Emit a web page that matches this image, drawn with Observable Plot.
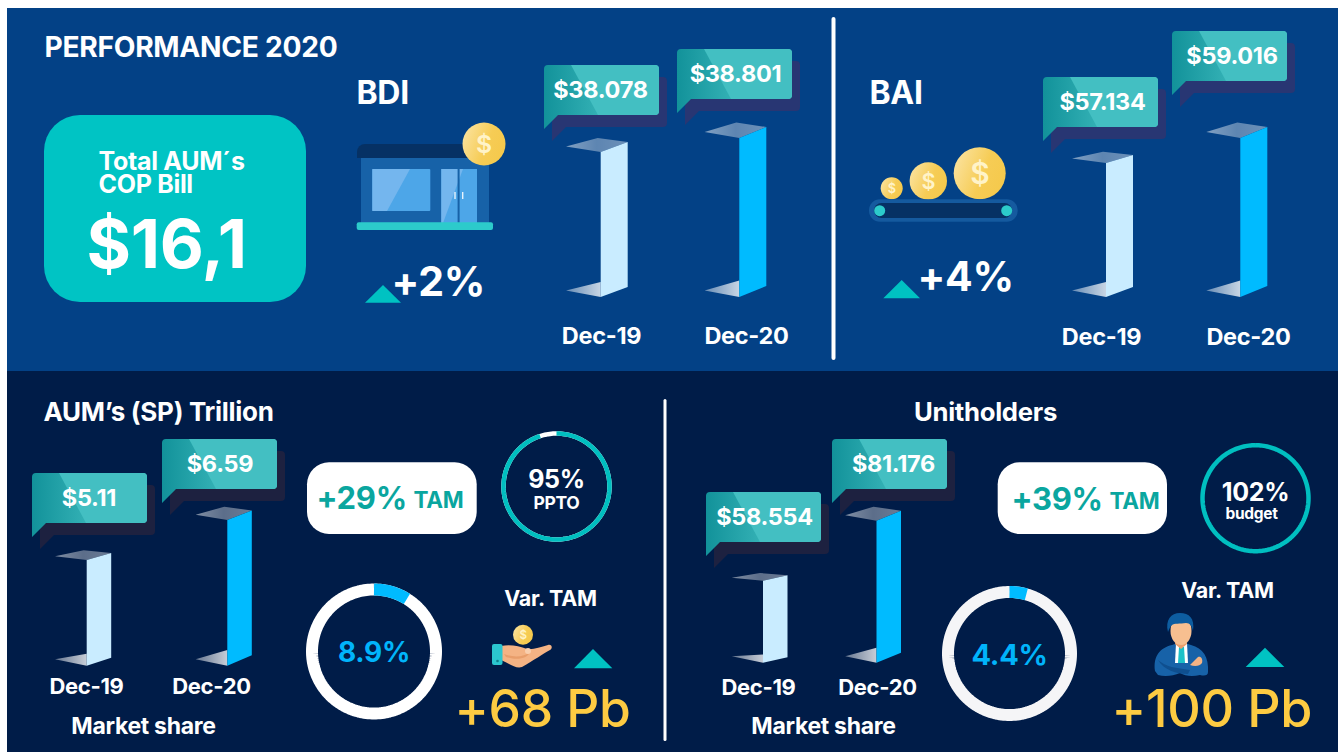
<!DOCTYPE html>
<html>
<head>
<meta charset="utf-8">
<script src="https://cdn.jsdelivr.net/npm/d3@7"></script>
<script src="https://cdn.jsdelivr.net/npm/@observablehq/plot@0.6"></script>
<style>
  html, body { margin: 0; padding: 0; background: #fff; overflow: hidden; }
  #stage { position: relative; width: 1338px; height: 752px; overflow: hidden; }
</style>
</head>
<body>
<div id="stage"></div>
<script>
// ---------- data ----------
const periods = ["Dec-19", "Dec-20"];
const bdiValues = [38078, 38801];
const baiValues = [57134, 59016];
const aumValues = [5.11, 6.59];
const unitholderValues = [58554, 81176];
const bdiLabels = ["$38.078", "$38.801"];
const baiLabels = ["$57.134", "$59.016"];
const aumLabels = ["$5.11", "$6.59"];
const unitholderLabels = ["$58.554", "$81.176"];
// the bars of the picture start from a truncated floor, one per chart
const axisFloors = { bdi: 30600, bai: 47050, aum: 1.2, unit: 27630 };
const marketShare = [8.9, 4.4];
const budgetShare = [95, 102];

// ---------- layout & style ----------
const W = 1338, H = 752;
const FONT = "Inter, 'Open Sans', sans-serif";
const SPACING = "-0.03em";
const WHITE = "#ffffff", TEAL = "#00c2c2", GOLD = "#fdcb42", DARKTEAL = "#0aa69f";
const barColors = ["#c9ecff", "#00bbff"];

const panels = [
  { values: bdiValues, labels: bdiLabels, floor: axisFloors.bdi,
    labelX: [601, 746], barOffset: [-0.3, -6.7], barW: 27, tip: -34.7,
    yBase: 297, yTop: 138, slantTop: [10, 11], slantBot: [10, 11],
    axisBase: 343.5, axisSize: 23.5,
    callouts: [[544, 65], [677, 49]], calloutTextX: [56, 58] },
  { values: baiValues, labels: baiLabels, floor: axisFloors.bai,
    labelX: [1101, 1248], barOffset: [5, -7.7], barW: 27, tip: -34,
    yBase: 297, yTop: 138, slantTop: [8, 11], slantBot: [10, 11],
    axisBase: 344, axisSize: 23.5,
    callouts: [[1043, 77], [1172, 31]], calloutTextX: [59, 59.5] },
  { values: aumValues, labels: aumLabels, floor: axisFloors.aum,
    labelX: [86, 211], barOffset: [0.7, 16.3], barW: 24.5, tip: -31.7,
    yBase: 665.7, yTop: 520, slantTop: [7, 9.5], slantBot: [8, 10.5],
    axisBase: 693.5, axisSize: 22,
    callouts: [[32, 473], [162, 439]], calloutTextX: [56.5, 57.5] },
  { values: unitholderValues, labels: unitholderLabels, floor: axisFloors.unit,
    labelX: [758, 877.5], barOffset: [5, -0.5], barW: 24.5, tip: -31.3,
    yBase: 662.7, yTop: 520.7, slantTop: [5.5, 10], slantBot: [5.5, 10],
    axisBase: 694, axisSize: 22,
    callouts: [[706, 492], [832, 439]], calloutTextX: [58, 61] }
];

const svgNS = "http://www.w3.org/2000/svg";
function layer(markup) {
  return () => {
    const g = document.createElementNS(svgNS, "g");
    g.innerHTML = markup;
    return g;
  };
}

function coin(cx, cy, r) {
  return `<circle cx="${cx}" cy="${cy}" r="${r}" fill="url(#coinGrad)"/>` +
    `<text x="${cx}" y="${cy + r * 0.42}" text-anchor="middle" font-size="${r * 1.15}" font-weight="600" fill="#fff3c8" font-family="${FONT}">$</text>`;
}
function triangle(x1, x2, x3, yTop, yBot) {
  return `<polygon points="${x1},${yBot} ${x2},${yTop} ${x3},${yBot}" fill="${TEAL}"/>`;
}
function calloutShape(x, y, fill, extra = "") {
  return `<path d="M${x + 4} ${y}H${x + 111}a4 4 0 0 1 4 4V${y + 46}a4 4 0 0 1 -4 4H${x + 14}L${x} ${y + 64}V${y + 4}a4 4 0 0 1 4 -4Z" fill="${fill}"/>` + extra;
}
function callout(x, y, shadow) {
  return calloutShape(x + 8, y + 12, shadow) +
    calloutShape(x, y, "url(#calloutGrad)") +
    `<path d="M${x + 27} ${y}H${x + 111}a4 4 0 0 1 4 4V${y + 46}a4 4 0 0 1 -4 4H${x + 54}Z" fill="#43bfc2"/>`;
}

const defs = `<defs>
  <linearGradient id="coinGrad" x1="0" y1="0.2" x2="1" y2="0.6"><stop offset="0" stop-color="#fbe3a0"/><stop offset="0.6" stop-color="#f6cc55"/><stop offset="1" stop-color="#f5c94c"/></linearGradient>
  <linearGradient id="calloutGrad" x1="0" y1="0" x2="1" y2="0"><stop offset="0" stop-color="#12929a"/><stop offset="0.5" stop-color="#35b2b6"/><stop offset="1" stop-color="#43bfc2"/></linearGradient>
  <linearGradient id="topGrad" x1="0" y1="0" x2="1" y2="0"><stop offset="0" stop-color="#fff" stop-opacity="0.5"/><stop offset="0.5" stop-color="#fff" stop-opacity="0.36"/><stop offset="1" stop-color="#fff" stop-opacity="0.42"/></linearGradient>
  <linearGradient id="baseGrad" x1="0" y1="0" x2="1" y2="0"><stop offset="0" stop-color="#fff" stop-opacity="0.4"/><stop offset="1" stop-color="#fff" stop-opacity="0.78"/></linearGradient>
</defs>`;

const store = `
  <path d="M357 158V152a8 8 0 0 1 8 -8H476V158Z" fill="#063164"/>
  <rect x="361" y="158" width="128" height="65" fill="#1762a8"/>
  <rect x="372.3" y="169" width="58" height="42" rx="1" fill="#4da6e8"/>
  <polygon points="372.3,169 410,169 387,211 372.3,211" fill="#74b6ee"/>
  <rect x="441.3" y="169" width="35.7" height="54" fill="#4da6e8"/>
  <polygon points="441.3,169 463,169 443,223 441.3,223" fill="#74b6ee"/>
  <rect x="457.6" y="169" width="2" height="54" fill="#1762a8"/>
  <rect x="454.3" y="192" width="1.4" height="7" fill="#e6f3fc"/>
  <rect x="462" y="192" width="1.4" height="7" fill="#e6f3fc"/>
  <rect x="356.7" y="222.3" width="136.3" height="7.7" rx="2" fill="#2ccbcb"/>
  ${coin(484, 144, 21.5)}`;

const conveyor = `
  ${coin(891.7, 188.3, 11)}${coin(928.3, 181, 18.7)}${coin(979.7, 173.3, 26)}
  <rect x="869" y="199.3" width="148.7" height="22.4" rx="11" fill="#155a9f"/>
  <rect x="874" y="203" width="138" height="15" rx="7.5" fill="#063164"/>
  <circle cx="879.7" cy="210.7" r="5.5" fill="#2ccbcb"/>
  <circle cx="1006.7" cy="210.7" r="5.5" fill="#2ccbcb"/>`;

const hand = `
  ${coin(523, 634.7, 10)}
  <path d="M501 646C510 644 519 646 527 649C533 650 540 647 548 645C552 644 553 648 550 650C543 654 534 660 522 667C516 669 510 664 501 660Z" fill="#f4b384"/>
  <path d="M504 654C514 658 524 657 530 652C528 658 518 661 506 657Z" fill="#e89e6b"/>
  <circle cx="528" cy="651" r="3" fill="#f9cfae"/>
  <rect x="492" y="644" width="10.5" height="21" rx="2" fill="#2bc6cf"/>
  <circle cx="497.5" cy="661" r="1.3" fill="#0e7f8a"/>`;

const person = `
  <path d="M1155 671C1153 656 1160 648 1172 645L1181 642L1191 645C1203 648 1209 657 1208 672C1208 676 1204 676 1200 675C1192 677 1185 676 1180 673C1173 676 1165 677 1158 675Z" fill="#1762a8"/>
  <polygon points="1176,643 1187,643 1188,663 1175,663" fill="#ffffff"/>
  <polygon points="1179,647 1184,647 1185,663 1178,663" fill="#1cc1c8"/>
  <path d="M1175 644L1181 649L1187 644L1186 638H1176Z" fill="#ee9f6b"/>
  <ellipse cx="1181" cy="631" rx="10.5" ry="14" fill="#f7bf90"/>
  <path d="M1168 632C1165 620 1171 613 1180 613C1189 613 1195 618 1193 631C1192 626 1190 623 1186 623C1180 624 1174 623 1172 625C1170 627 1169 629 1168 632Z" fill="#0d5da0"/>
  <path d="M1190 665L1198 657C1201 656 1203 659 1202 663C1200 666 1195 667 1190 665Z" fill="#f4b384"/>
  <path d="M1158 660C1166 667 1176 668 1190 670L1188 674C1176 674 1164 670 1158 660Z" fill="#0f4f8f"/>`;

// ---------- texts ----------
const texts = [
  { text: "PERFORMANCE 2020", x: 44, y: 56, size: 28.2, weight: 700 },
  { text: "BDI", x: 356, y: 103, size: 32, weight: 700 },
  { text: "BAI", x: 869, y: 103, size: 32, weight: 700 },
  { text: "$16,1", x: 86, y: 267, size: 68, weight: 700 },
  { text: "+2%", x: 391, y: 295, size: 41, weight: 700 },
  { text: "+4%", x: 917, y: 290, size: 41, weight: 700 },
  { text: "AUM’s (SP) Trillion", x: 43, y: 420, size: 26, weight: 700 },
  { text: "Unitholders", x: 985, y: 420, size: 25.7, weight: 700, anchor: "middle" },
  { text: "Market share", x: 143, y: 733, size: 23, weight: 700, anchor: "middle" },
  { text: "Market share", x: 823, y: 733, size: 23, weight: 700, anchor: "middle" },
  { text: "+29%", x: 316, y: 508, size: 31, weight: 700, fill: DARKTEAL },
  { text: "TAM", x: 413, y: 507, size: 22.5, weight: 700, fill: DARKTEAL },
  { text: "+39%", x: 1011, y: 509, size: 31, weight: 700, fill: DARKTEAL },
  { text: "TAM", x: 1109, y: 508, size: 22.5, weight: 700, fill: DARKTEAL },
  { text: budgetShare[0] + "%", x: 556, y: 487, size: 25, weight: 700, anchor: "middle" },
  { text: "PPTO", x: 556, y: 508, size: 17.5, weight: 700, anchor: "middle" },
  { text: budgetShare[1] + "%", x: 1255, y: 500.5, size: 25, weight: 700, anchor: "middle" },
  { text: "budget", x: 1251, y: 518, size: 15.5, weight: 700, anchor: "middle" },
  { text: marketShare[0] + "%", x: 373.5, y: 661, size: 28, weight: 700, fill: "#00b4fb", anchor: "middle" },
  { text: marketShare[1] + "%", x: 1009, y: 664, size: 29, weight: 700, fill: "#00b4fb", anchor: "middle" },
  { text: "Var. TAM", x: 550, y: 605, size: 21.5, weight: 700, anchor: "middle" },
  { text: "Var. TAM", x: 1227, y: 597, size: 21.5, weight: 700, anchor: "middle" },
  { text: "+68 Pb", x: 454, y: 726, size: 51.5, weight: 500, fill: GOLD },
  { text: "+100 Pb", x: 1111, y: 726, size: 52, weight: 500, fill: GOLD }
];
const textMark = t => Plot.text([t], {
  x: "x", y: "y", text: "text", fontSize: t.size, fontWeight: t.weight,
  fill: t.fill || WHITE, textAnchor: t.anchor || "start", lineAnchor: "bottom", fontFamily: FONT
});

// ---------- rings ----------
function arc(from, to, cx, cy, r) {
  const n = Math.max(2, Math.ceil((to - from) * 2));
  return d3.range(n + 1).map(i => {
    const a = (from + (to - from) * i / n) / 100 * 2 * Math.PI;
    return { x: cx + r * Math.sin(a), y: cy - r * Math.cos(a) };
  });
}
const ringMark = (from, to, cx, cy, r, w, color) => Plot.line(arc(from, to, cx, cy, r), {
  x: "x", y: "y", stroke: color, strokeWidth: w, strokeLinecap: "butt", strokeLinejoin: "round"
});

// ---------- base plot ----------
const base = Plot.plot({
  width: W, height: H, margin: 0,
  x: { domain: [0, W], range: [0, W], axis: null },
  y: { domain: [0, H], range: [0, H], axis: null },
  style: { position: "absolute", left: "0", top: "0", background: "transparent", fontFamily: FONT, letterSpacing: SPACING },
  marks: [
    layer(defs),
    Plot.rect([0], { x1: 7, x2: W, y1: 8, y2: 371, fill: "#034186" }),
    Plot.rect([0], { x1: 7, x2: W, y1: 371, y2: H, fill: "#001c48" }),
    Plot.rect([0], { x1: 44, x2: 306, y1: 115, y2: 302, r: 36, fill: "#00c4c4" }),
    Plot.rect([0], { x1: 831.5, x2: 835.5, y1: 17, y2: 360, r: 2, fill: WHITE }),
    Plot.rect([0], { x1: 663.5, x2: 666.5, y1: 399, y2: 741, r: 1.5, fill: WHITE }),
    Plot.rect([0], { x1: 307, x2: 476.7, y1: 462.3, y2: 534, r: 22, fill: WHITE }),
    Plot.rect([0], { x1: 997.7, x2: 1167, y1: 462.3, y2: 534, r: 22, fill: WHITE }),
    layer(store + conveyor + hand + person +
      triangle(365, 383, 401, 285, 302.7) + triangle(883.3, 901.7, 920, 280, 298.3) +
      triangle(574, 593, 612.3, 649, 668.3) + triangle(1245.7, 1265, 1284.3, 647.7, 667)),
    layer(panels.map((p, k) => p.callouts.map(([x, y]) =>
      callout(x, y, k < 2 ? "#283673" : "#1d2140")).join("")).join("")),
    // rings
    ringMark(0, 100, 373.5, 651, 62, 12, WHITE),
    ringMark(0, marketShare[0], 373.5, 651, 62, 12, "#00bbff"),
    ringMark(0, 100, 1009, 653, 61.5, 12, "#f5f5f7"),
    ringMark(0, marketShare[1], 1009, 653, 61.5, 12, "#00bbff"),
    ringMark(0, 100, 556, 486, 53, 4.5, WHITE),
    ringMark(0, Math.min(budgetShare[0], 100), 556, 486, 53, 4.5, "#00bfc0"),
    ringMark(0, Math.min(budgetShare[1], 100), 1255, 497.7, 53, 4.5, "#00bfc0"),
    // callout labels
    ...panels.flatMap(p => p.labels.map((text, i) => Plot.text([text], {
      x: p.callouts[i][0] + p.calloutTextX[i], y: p.callouts[i][1] + 25, text: d => d,
      fontSize: 23.5, fontWeight: 700, fill: WHITE, fontFamily: FONT
    }))),
    // two-line caption in one text element
    Plot.text(["Total AUM´s\nCOP Bill"], {
      x: 98, y: 171, text: d => d, fontSize: 25, fontWeight: 700, fill: WHITE, textAnchor: "start",
      lineAnchor: "top", dy: -18, lineHeight: 0.92, fontFamily: FONT
    }),
    ...texts.map(textMark)
  ]
});

// ---------- bar panels: x (periods) and y (values) are the library's scales ----------
function barRender(p) {
  return (index, scales, values) => {
    const g = document.createElementNS(svgNS, "g");
    let s = "";
    for (const i of index) {
      const xL = values.x[i] + p.barOffset[i], xR = xL + p.barW;
      const yT = values.y2[i], yB = values.y1[i];
      const st = p.slantTop[i], sb = p.slantBot[i];
      s += `<polygon points="${xL + p.tip},${yT - st * 0.55} ${xL - 3},${yT - st * 1.4} ${xR},${yT - st} ${xL},${yT}" fill="url(#topGrad)"/>`;
      s += `<polygon points="${xL + p.tip},${yB - 6.5} ${xL},${yB - sb * 1.5} ${xL},${yB}" fill="url(#baseGrad)"/>`;
      s += `<polygon points="${xL},${yT} ${xR},${yT - st} ${xR},${yB - sb} ${xL},${yB}" fill="${barColors[i]}"/>`;
    }
    g.innerHTML = s;
    return g;
  };
}

const barPlots = panels.map(p => {
  const rows = periods.map((period, i) => ({ period, value: p.values[i], floor: p.floor }));
  return Plot.plot({
    width: W, height: H, marginLeft: 0, marginRight: 0, marginTop: 0,
    marginBottom: H - (p.axisBase - 0.71 * p.axisSize),
    x: { type: "point", domain: periods, range: p.labelX, padding: 0 },
    y: { domain: [p.floor, d3.max(p.values)], range: [p.yBase, p.yTop], axis: null },
    style: { position: "absolute", left: "0", top: "0", background: "transparent", fontFamily: FONT, letterSpacing: SPACING },
    marks: [
      Plot.ruleX(rows, { x: "period", y1: "floor", y2: "value", render: barRender(p) }),
      Plot.axisX({ tickSize: 0, tickPadding: 0, label: null, fontSize: p.axisSize, fontWeight: 700,
        color: WHITE, fontFamily: FONT, lineAnchor: "top" })
    ]
  });
});

const stage = document.getElementById("stage");
stage.appendChild(base);
barPlots.forEach(b => stage.appendChild(b));
</script>
</body>
</html>
